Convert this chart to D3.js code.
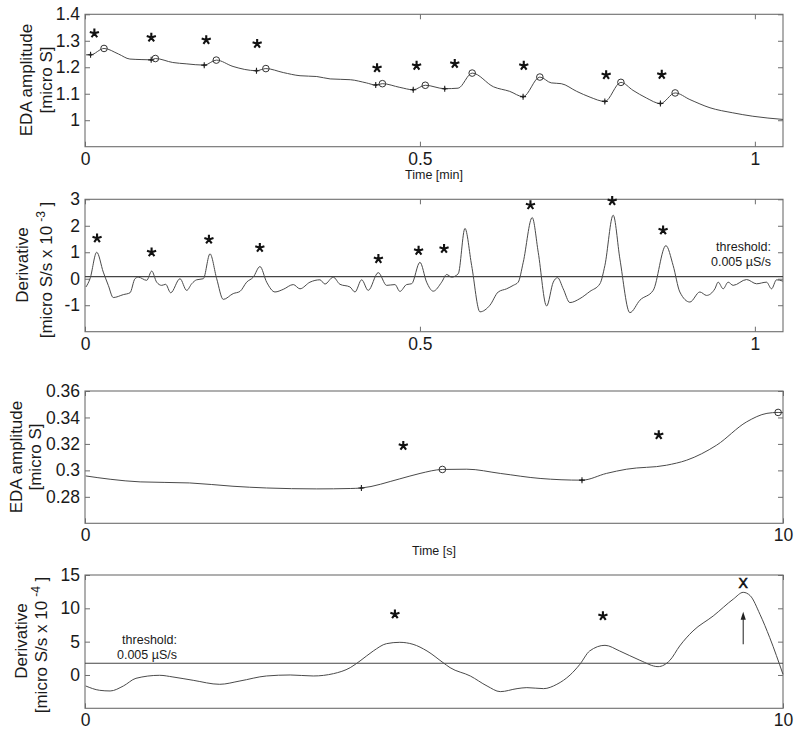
<!DOCTYPE html>
<html>
<head>
<meta charset="utf-8">
<script src="https://cdn.jsdelivr.net/npm/d3@7"></script>
<style>
  html, body { margin: 0; padding: 0; background: #fff; }
  svg { display: block; font-family: "Liberation Sans", Arial, sans-serif; }
</style>
</head>
<body>
<svg id="chart" width="800" height="735"></svg>
<script>
// ---------------- DATA ----------------
// Panel 1: EDA amplitude over time (min)
const edaMinT = [0.0015,0.0083,0.0284,0.05,0.067,0.085,0.0988,0.105,0.131,0.151,0.178,0.196,0.221,0.256,0.270,0.296,0.321,0.346,0.366,0.396,0.420,0.434,0.444,0.470,0.490,0.508,0.537,0.557,0.578,0.610,0.634,0.654,0.679,0.696,0.711,0.734,0.754,0.776,0.800,0.818,0.838,0.859,0.881,0.903,0.933,0.967,0.997,1.042];
const edaMinV = [1.247,1.247,1.271,1.250,1.231,1.229,1.228,1.233,1.218,1.213,1.208,1.227,1.203,1.187,1.195,1.180,1.168,1.165,1.156,1.153,1.141,1.133,1.138,1.124,1.115,1.132,1.119,1.121,1.178,1.126,1.109,1.089,1.163,1.141,1.138,1.109,1.087,1.071,1.143,1.113,1.084,1.063,1.103,1.078,1.047,1.028,1.015,1.003];
const onsetMinT = [0.0083,0.0988,0.178,0.256,0.434,0.490,0.537,0.654,0.776,0.859];
const onsetMinV = [1.247,1.228,1.208,1.187,1.133,1.115,1.119,1.089,1.071,1.063];
const peakMinT  = [0.0284,0.105,0.196,0.270,0.444,0.508,0.578,0.679,0.800,0.881];
const peakMinV  = [1.271,1.233,1.227,1.195,1.138,1.132,1.178,1.163,1.143,1.103];
const starEdaMinT = [0.014,0.099,0.181,0.257,0.436,0.495,0.552,0.655,0.778,0.861];
const starEdaMinV = [1.328,1.312,1.303,1.289,1.197,1.206,1.213,1.206,1.171,1.172];

// Panel 2: derivative (x 10^-3) over time (min)
const derMinT = [0.0015,0.0075,0.0175,0.0273,0.0348,0.0422,0.0572,0.0672,0.0746,0.0796,0.0921,0.0996,0.107,0.1145,0.1204,0.1279,0.1418,0.1518,0.1593,0.1667,0.1766,0.1866,0.1966,0.2064,0.2213,0.2313,0.2413,0.2512,0.2612,0.2712,0.2836,0.296,0.3109,0.3209,0.3358,0.3507,0.3582,0.3706,0.3806,0.3955,0.403,0.413,0.4228,0.4378,0.4503,0.4627,0.4701,0.4801,0.4876,0.5,0.51,0.5199,0.5324,0.5399,0.5473,0.5572,0.5672,0.5772,0.5896,0.6045,0.6169,0.6294,0.6393,0.6467,0.6542,0.6676,0.6766,0.6891,0.699,0.7055,0.7139,0.7239,0.7388,0.7537,0.7687,0.7761,0.7885,0.7985,0.8134,0.8284,0.8482,0.8672,0.878,0.888,0.903,0.9179,0.9279,0.9403,0.9452,0.9527,0.9601,0.9676,0.9876,1.0025,1.0174,1.0249,1.0324,1.0418];
const derMinV = [-0.31,0,1.0,0.25,-0.25,-0.71,-0.6,-0.53,0.0,0.06,-0.06,0.29,-0.13,-0.25,-0.21,-0.53,0,-0.44,-0.19,-0.04,0,0.94,0,-0.78,-0.56,-0.48,-0.13,0.06,0.46,-0.13,-0.5,-0.4,-0.22,-0.38,-0.13,-0.04,-0.2,0.06,-0.21,-0.31,-0.5,-0.04,-0.44,0.23,-0.25,-0.22,-0.48,-0.22,-0.19,0.62,-0.13,-0.47,-0.13,0.16,0.06,0.19,1.9,0.5,-1.25,-1.0,-0.5,-0.38,-0.25,-0.13,0.62,2.31,1.0,-1.03,-0.13,0.04,-0.38,-0.9,-0.75,-0.48,-0.19,0.5,2.4,0.75,-1.28,-0.81,-0.44,1.25,0.5,-0.5,-0.88,-0.5,-0.63,-0.38,-0.13,-0.38,-0.13,-0.25,-0.03,-0.19,-0.13,-0.38,-0.04,-0.09];
const starDerMinT = [0.018,0.0994,0.185,0.261,0.438,0.498,0.536,0.665,0.787,0.863];
const starDerMinV = [1.53,1.0,1.48,1.17,0.75,1.06,1.13,2.78,2.94,1.83];
const thresholdMin = 0.08;

// Panel 3: EDA amplitude over time (s)
const edaSecT = [0.01,0.36,0.79,1.5,2.12,2.6,3.32,3.8,3.96,4.51,4.8,5.12,5.47,5.95,6.52,7.12,7.47,7.76,8.33,8.62,9.05,9.48,9.77,9.93,10];
const edaSecV = [0.2958,0.2933,0.2913,0.2905,0.288,0.2867,0.286,0.2863,0.2867,0.2936,0.2977,0.3007,0.3009,0.2977,0.2939,0.2926,0.2977,0.3009,0.3039,0.3077,0.3191,0.3367,0.3431,0.3438,0.3436];
const onsetSecT = [3.96,7.12];
const onsetSecV = [0.2867,0.2926];
const peakSecT = [5.12,9.93];
const peakSecV = [0.3007,0.3438];
const starEdaSecT = [4.56,8.22];
const starEdaSecV = [0.3186,0.3267];

// Panel 4: derivative (x 10^-4) over time (s)
const derSecT = [0.01,0.21,0.36,0.55,0.73,1.07,1.26,1.55,1.93,2.22,2.6,2.94,3.27,3.56,3.8,3.94,4.13,4.32,4.51,4.7,4.9,5.13,5.23,5.52,5.76,5.95,6.19,6.33,6.57,6.76,6.95,7.09,7.23,7.45,7.66,7.95,8.21,8.38,8.52,8.71,9.0,9.29,9.43,9.53,9.67,9.81,10];
const derSecV = [-1.65,-2.3,-2.4,-1.65,-0.5,-0.05,-0.3,-0.8,-1.4,-0.9,-0.15,0.0,-0.15,0.2,1.1,2.1,3.6,4.7,4.9,4.6,3.6,1.85,1.1,-0.15,-1.65,-2.5,-2.05,-1.9,-2.05,-1.4,0.0,1.6,3.6,4.45,3.6,2.2,1.25,2.2,4.35,6.6,8.85,11.4,12.4,11.9,9.1,5.6,0.1];
const starDerSecT = [4.44,7.42];
const starDerSecV = [9.1,8.85];
const thresholdSec = 1.75;
const rejectT = 9.43, rejectV = 13.8;          // "X" marker
const arrowT = 9.43, arrowFrom = 4.6, arrowTo = 9.5;

// Axis ticks
const xTicksMin = [0, 0.5, 1];        const xLabelsMin = ["0", "0.5", "1"];
const xTicksSec = [0, 10];            const xLabelsSec = ["0", "10"];
const y1Ticks = [1, 1.1, 1.2, 1.3, 1.4];  const y1Labels = ["1", "1.1", "1.2", "1.3", "1.4"];
const y2Ticks = [-1, 0, 1, 2, 3];         const y2Labels = ["-1", "0", "1", "2", "3"];
const y3Ticks = [0.28, 0.3, 0.32, 0.34, 0.36]; const y3Labels = ["0.28", "0.3", "0.32", "0.34", "0.36"];
const y4Ticks = [0, 5, 10, 15];           const y4Labels = ["0", "5", "10", "15"];

// ---------------- DRAWING ----------------
const svg = d3.select("#chart");
const L = 85, R = 783;
const BOX = "#6e6e6e", LINE = "#4a4a4a", INK = "#111";
const FONT = "'Liberation Sans', Arial, sans-serif";

const xMin = d3.scaleLinear().domain([0, 1.042]).range([L, R]);
const xSec = d3.scaleLinear().domain([0, 10]).range([L, R]);

const panels = [
  { top: 14.3, bottom: 146.7, dom: [0.9, 1.4], x: xMin, xt: xTicksMin, xl: xLabelsMin, yt: y1Ticks, yl: y1Labels },
  { top: 199.3, bottom: 331.7, dom: [-2, 3], x: xMin, xt: xTicksMin, xl: xLabelsMin, yt: y2Ticks, yl: y2Labels },
  { top: 391, bottom: 523.3, dom: [0.26, 0.36], x: xSec, xt: xTicksSec, xl: xLabelsSec, yt: y3Ticks, yl: y3Labels },
  { top: 575, bottom: 708.3, dom: [-5, 15], x: xSec, xt: xTicksSec, xl: xLabelsSec, yt: y4Ticks, yl: y4Labels }
];
panels.forEach(p => { p.y = d3.scaleLinear().domain(p.dom).range([p.bottom, p.top]); });

function styleAxis(g, labels) {
  g.select(".domain").remove();
  g.selectAll(".tick line").attr("stroke", BOX);
  g.selectAll(".tick text").attr("fill", "#1a1a1a").style("font-size", "17.5px").style("font-family", FONT);
  if (!labels) g.selectAll(".tick text").remove();
}

panels.forEach(p => {
  const g = svg.append("g");
  g.append("g").attr("transform", `translate(${L},0)`)
    .call(d3.axisLeft(p.y).tickValues(p.yt).tickFormat((d, i) => p.yl[i]).tickSize(-5).tickPadding(5))
    .call(a => styleAxis(a, true));
  g.append("g").attr("transform", `translate(${R},0)`)
    .call(d3.axisRight(p.y).tickValues(p.yt).tickSize(-5))
    .call(a => styleAxis(a, false));
  g.append("g").attr("transform", `translate(0,${p.bottom})`)
    .call(d3.axisBottom(p.x).tickValues(p.xt).tickFormat((d, i) => p.xl[i]).tickSize(-5).tickPadding(5.5))
    .call(a => styleAxis(a, true));
  g.append("g").attr("transform", `translate(0,${p.top})`)
    .call(d3.axisTop(p.x).tickValues(p.xt).tickSize(-5))
    .call(a => styleAxis(a, false));
  g.append("rect").attr("x", L).attr("y", p.top).attr("width", R - L).attr("height", p.bottom - p.top)
    .attr("fill", "none").attr("stroke", BOX).attr("stroke-width", 1.1);
});

function zip(a, b) { return a.map((d, i) => [d, b[i]]); }

function drawCurve(p, T, V) {
  const line = d3.line().x(d => p.x(d[0])).y(d => p.y(d[1])).curve(d3.curveMonotoneX);
  svg.append("path").datum(zip(T, V)).attr("d", line)
    .attr("fill", "none").attr("stroke", LINE).attr("stroke-width", 1);
}

function asteriskPath(r) {
  let d = "";
  for (let k = 0; k < 5; k++) {
    const a = (-90 + 72 * k) * Math.PI / 180;
    d += `M0,0L${(r * Math.cos(a)).toFixed(2)},${(r * Math.sin(a)).toFixed(2)}`;
  }
  return d;
}
function drawStars(p, T, V) {
  svg.append("g").selectAll("path").data(zip(T, V)).join("path")
    .attr("transform", d => `translate(${p.x(d[0])},${p.y(d[1])})`)
    .attr("d", asteriskPath(4.8)).attr("stroke", INK).attr("stroke-width", 2.1)
    .attr("fill", "none");
}
function drawOnsets(p, T, V) {
  const g = svg.append("g").selectAll("g").data(zip(T, V)).join("g")
    .attr("transform", d => `translate(${p.x(d[0])},${p.y(d[1])})`);
  g.append("path").attr("d", "M-3,0H3M0,-3V3").attr("stroke", "#222").attr("stroke-width", 1.1);
  g.append("circle").attr("r", 1.2).attr("fill", "#222");
}
function drawPeaks(p, T, V) {
  svg.append("g").selectAll("circle").data(zip(T, V)).join("circle")
    .attr("cx", d => p.x(d[0])).attr("cy", d => p.y(d[1])).attr("r", 3.3)
    .attr("fill", "none").attr("stroke", "#333").attr("stroke-width", 1);
}
function drawThreshold(p, v) {
  svg.append("line").attr("x1", L).attr("x2", R).attr("y1", p.y(v)).attr("y2", p.y(v))
    .attr("stroke", "#444").attr("stroke-width", 1.1);
}

// Panel 1
drawCurve(panels[0], edaMinT, edaMinV);
drawOnsets(panels[0], onsetMinT, onsetMinV);
drawPeaks(panels[0], peakMinT, peakMinV);
drawStars(panels[0], starEdaMinT, starEdaMinV);

// Panel 2
drawThreshold(panels[1], thresholdMin);
drawCurve(panels[1], derMinT, derMinV);
drawStars(panels[1], starDerMinT, starDerMinV);

// Panel 3
drawCurve(panels[2], edaSecT, edaSecV);
drawOnsets(panels[2], onsetSecT, onsetSecV);
drawPeaks(panels[2], peakSecT, peakSecV);
drawStars(panels[2], starEdaSecT, starEdaSecV);

// Panel 4
drawThreshold(panels[3], thresholdSec);
drawCurve(panels[3], derSecT, derSecV);
drawStars(panels[3], starDerSecT, starDerSecV);
svg.append("text").attr("x", xSec(rejectT)).attr("y", panels[3].y(rejectV) + 5)
  .attr("text-anchor", "middle").style("font-size", "14px").style("font-family", FONT)
  .attr("fill", INK).attr("stroke", INK).attr("stroke-width", 0.6).text("X");
{
  const ax = xSec(arrowT), y0 = panels[3].y(arrowFrom), y1 = panels[3].y(arrowTo);
  svg.append("line").attr("x1", ax).attr("x2", ax).attr("y1", y0).attr("y2", y1 + 6)
    .attr("stroke", "#333").attr("stroke-width", 1.1);
  svg.append("path").attr("d", `M${ax},${y1}L${ax - 2.6},${y1 + 8}L${ax + 2.6},${y1 + 8}Z`).attr("fill", "#222");
}

// ---------------- TEXT ----------------
function ylab(x, cy, txt, sup, after) {
  const t = svg.append("text").attr("transform", `translate(${x},${cy}) rotate(-90)`)
    .attr("text-anchor", "middle").style("font-size", "17px").style("font-family", FONT).attr("fill", "#1a1a1a");
  t.append("tspan").text(txt);
  if (sup) {
    t.append("tspan").attr("dx", 4).attr("dy", -7).style("font-size", "12px").text(sup);
    t.append("tspan").attr("dy", 7).text(after);
  }
}
ylab(31.7, 80, "EDA amplitude");
ylab(51.5, 80, "[micro S]");
ylab(28.3, 265, "Derivative");
ylab(51.5, 270, "[micro S/s x 10", "-3", " ]");
ylab(21.7, 457, "EDA amplitude");
ylab(40.5, 457, "[micro S]");
ylab(27, 641, "Derivative");
ylab(46.5, 645, "[micro S/s x 10", "-4", " ]");

function smallText(x, y, txt, anchor) {
  svg.append("text").attr("x", x).attr("y", y).attr("text-anchor", anchor || "middle")
    .style("font-size", "12.5px").style("font-family", FONT).attr("fill", "#1a1a1a").text(txt);
}
smallText(434, 179, "Time [min]");
smallText(434, 554.5, "Time [s]");
smallText(771, 251, "threshold:", "end");
smallText(771, 266, "0.005 µS/s", "end");
smallText(177, 644, "threshold:", "end");
smallText(177, 659, "0.005 µS/s", "end");
</script>
</body>
</html>
